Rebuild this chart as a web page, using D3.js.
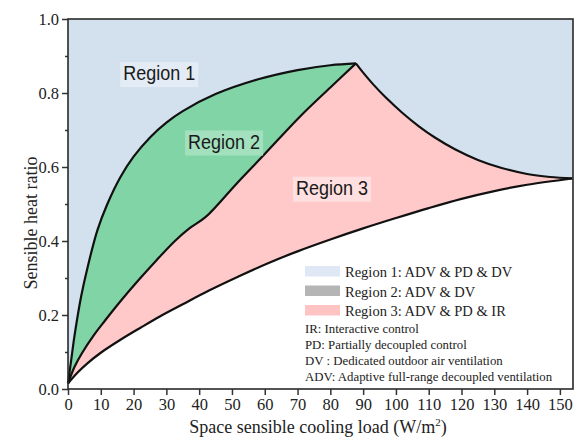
<!DOCTYPE html>
<html>
<head>
<meta charset="utf-8">
<script src="https://cdn.jsdelivr.net/npm/d3@7"></script>
<style>
    body { margin: 0; background: #fff; }
    .serif { font-family: "Liberation Serif", "Times New Roman", serif; fill: #222; }
    .narrow { font-family: "Liberation Sans", Arial, sans-serif; fill: #1a1a1a; }
</style>
</head>
<body>
<svg id="chart" width="577" height="439"></svg>
<script>
// boundary curves (x: W/m2, y: sensible heat ratio)
const region2TopX = [0, 1, 2, 4, 6, 9, 12, 16, 20, 25, 30, 35, 45, 58, 70, 80, 87.8];
const region2TopY = [0.015, 0.08, 0.145, 0.25, 0.33, 0.43, 0.50, 0.573, 0.628, 0.68, 0.72, 0.751, 0.797, 0.837, 0.862, 0.875, 0.88];

const region2BottomX = [0, 2, 4.2, 8, 11.3, 16, 21.4, 27, 32.6, 37, 42, 51.4, 60, 70.7, 80, 87.8];
const region2BottomY = [0.015, 0.06, 0.096, 0.147, 0.185, 0.237, 0.293, 0.348, 0.4, 0.434, 0.465, 0.555, 0.635, 0.736, 0.815, 0.88];

const region3TopX = [87.8, 90, 93, 97, 102, 107, 112, 118, 125, 132, 140, 147, 153.8];
const region3TopY = [0.88, 0.855, 0.824, 0.787, 0.746, 0.71, 0.679, 0.648, 0.619, 0.598, 0.581, 0.573, 0.569];

const region3BottomX = [0, 3, 6, 10, 16, 22, 28, 35, 43, 52, 61, 70, 80, 90, 100, 110, 120, 130, 140, 153.8];
const region3BottomY = [0.015, 0.045, 0.07, 0.098, 0.133, 0.165, 0.196, 0.229, 0.266, 0.304, 0.34, 0.372, 0.404, 0.434, 0.462, 0.489, 0.514, 0.535, 0.552, 0.569];

const xTickValues = [0, 10, 20, 30, 40, 50, 60, 70, 80, 90, 100, 110, 120, 130, 140, 150];
const yTickValues = [0, 0.2, 0.4, 0.6, 0.8, 1.0];
const yMinorTicks = [0.1, 0.3, 0.5, 0.7, 0.9];

const regionLabels = ["Region 1", "Region 2", "Region 3"];
const regionLabelPos = [[27.8, 0.835], [47.6, 0.650], [80.5, 0.525]];

const legendNames = ["Region 1: ADV & PD & DV", "Region 2: ADV & DV", "Region 3: ADV & PD & IR"];
const legendNotes = ["IR: Interactive control", "PD: Partially decoupled control",
    "DV : Dedicated outdoor air ventilation", "ADV: Adaptive full-range decoupled ventilation"];

const colors = {
    blue: "#d3e1ef",
    green: "#80d4a6",
    pink: "#ffc9c9",
    labelBg: ["#e3ebf5", "#a2e0be", "#ffdfdf"],
    legend: ["#dfe8f4", "#b5b5b5", "#fec3c3"]
};

const zip = (xs, ys) => xs.map((d, i) => [d, ys[i]]);
const top2 = zip(region2TopX, region2TopY);
const bot2 = zip(region2BottomX, region2BottomY);
const top3 = zip(region3TopX, region3TopY);
const bot3 = zip(region3BottomX, region3BottomY);

const svg = d3.select("#chart");
const x = d3.scaleLinear().domain([0, 154]).range([68, 573]);
const y = d3.scaleLinear().domain([0, 1]).range([389, 19]);

const curve = d3.curveCatmullRom.alpha(0.5);
const line = d3.line().x(d => x(d[0])).y(d => y(d[1])).curve(curve);
const area = d3.area().x(d => x(d[0])).y0(y(0)).y1(d => y(d[1])).curve(curve);

let plot = svg.append("g");

// region 1 = whole background, then paint others on top
plot.append("rect")
    .attr("x", x(0)).attr("y", y(1))
    .attr("width", x(154) - x(0)).attr("height", y(0) - y(1))
    .attr("fill", colors.blue);

plot.append("path").attr("d", area(top2)).attr("fill", colors.green);
plot.append("path").attr("d", area(bot2) + area(top3)).attr("fill", colors.pink);
plot.append("path").attr("d", area(bot3)).attr("fill", "#fff");

[top2, bot2, top3, bot3].forEach(pts => {
    plot.append("path")
        .attr("d", line(pts))
        .attr("fill", "none")
        .attr("stroke", "#111")
        .attr("stroke-width", 2.2)
        .attr("stroke-linejoin", "round");
});

// region labels with their light boxes (narrow face squeezed via textLength)
regionLabels.forEach((t, i) => {
    let g = plot.append("g");
    let txt = g.append("text")
        .attr("class", "narrow")
        .attr("x", x(regionLabelPos[i][0]) - 36)
        .attr("y", y(regionLabelPos[i][1]))
        .attr("textLength", 72)
        .attr("lengthAdjust", "spacingAndGlyphs")
        .style("font-size", "21px")
        .text(t);
    let bb = txt.node().getBBox();
    g.insert("rect", "text")
        .attr("x", bb.x - 3).attr("y", bb.y + 1)
        .attr("width", bb.width + 6).attr("height", bb.height + 2)
        .attr("fill", colors.labelBg[i]);
});

// legend
let legend = svg.append("g").attr("transform", "translate(305,266)");
legendNames.forEach((t, i) => {
    legend.append("rect")
        .attr("x", 0).attr("y", i * 19.5)
        .attr("width", 35).attr("height", 10.5)
        .attr("fill", colors.legend[i]);
    legend.append("text")
        .attr("class", "serif")
        .attr("x", 40).attr("y", i * 19.5 + 11)
        .style("font-size", "14.5px")
        .text(t);
});
legendNotes.forEach((t, i) => {
    legend.append("text")
        .attr("class", "serif")
        .attr("x", 0).attr("y", 67 + i * 16)
        .style("font-size", "12.8px")
        .text(t);
});

// axes
let xAxis = svg.append("g")
    .attr("transform", `translate(0,${y(0)})`)
    .call(d3.axisBottom(x).tickValues(xTickValues).tickSize(6).tickSizeOuter(0).tickPadding(3));
let yAxis = svg.append("g")
    .attr("transform", `translate(${x(0)},0)`)
    .call(d3.axisLeft(y).tickValues(yTickValues).tickFormat(d3.format(".1f")).tickSize(6).tickSizeOuter(0).tickPadding(3));
svg.append("g")
    .attr("transform", `translate(${x(0)},0)`)
    .call(d3.axisLeft(y).tickValues(yMinorTicks).tickFormat("").tickSize(3).tickSizeOuter(0))
    .call(g => g.select(".domain").remove())
    .selectAll("line").attr("stroke", "#333").attr("stroke-width", 1.5);

[xAxis, yAxis].forEach(a => {
    a.select(".domain").remove();
    a.selectAll("line").attr("stroke", "#333").attr("stroke-width", 1.5);
    a.selectAll("text").attr("class", "serif").attr("fill", "#222").style("font-size", "16.5px");
});

// frame
svg.append("rect")
    .attr("x", x(0)).attr("y", y(1))
    .attr("width", x(154) - x(0)).attr("height", y(0) - y(1))
    .attr("fill", "none")
    .attr("stroke", "#2a2a2a")
    .attr("stroke-width", 1.6);

svg.append("text")
    .attr("class", "serif")
    .attr("x", 318).attr("y", 433)
    .attr("text-anchor", "middle")
    .style("font-size", "18px")
    .html("Space sensible cooling load (W/m<tspan dy='-7' font-size='11px'>2</tspan><tspan dy='7'>)</tspan>");

svg.append("text")
    .attr("class", "serif")
    .attr("transform", "translate(37,223) rotate(-90)")
    .attr("text-anchor", "middle")
    .style("font-size", "18px")
    .text("Sensible heat ratio");
</script>
</body>
</html>
